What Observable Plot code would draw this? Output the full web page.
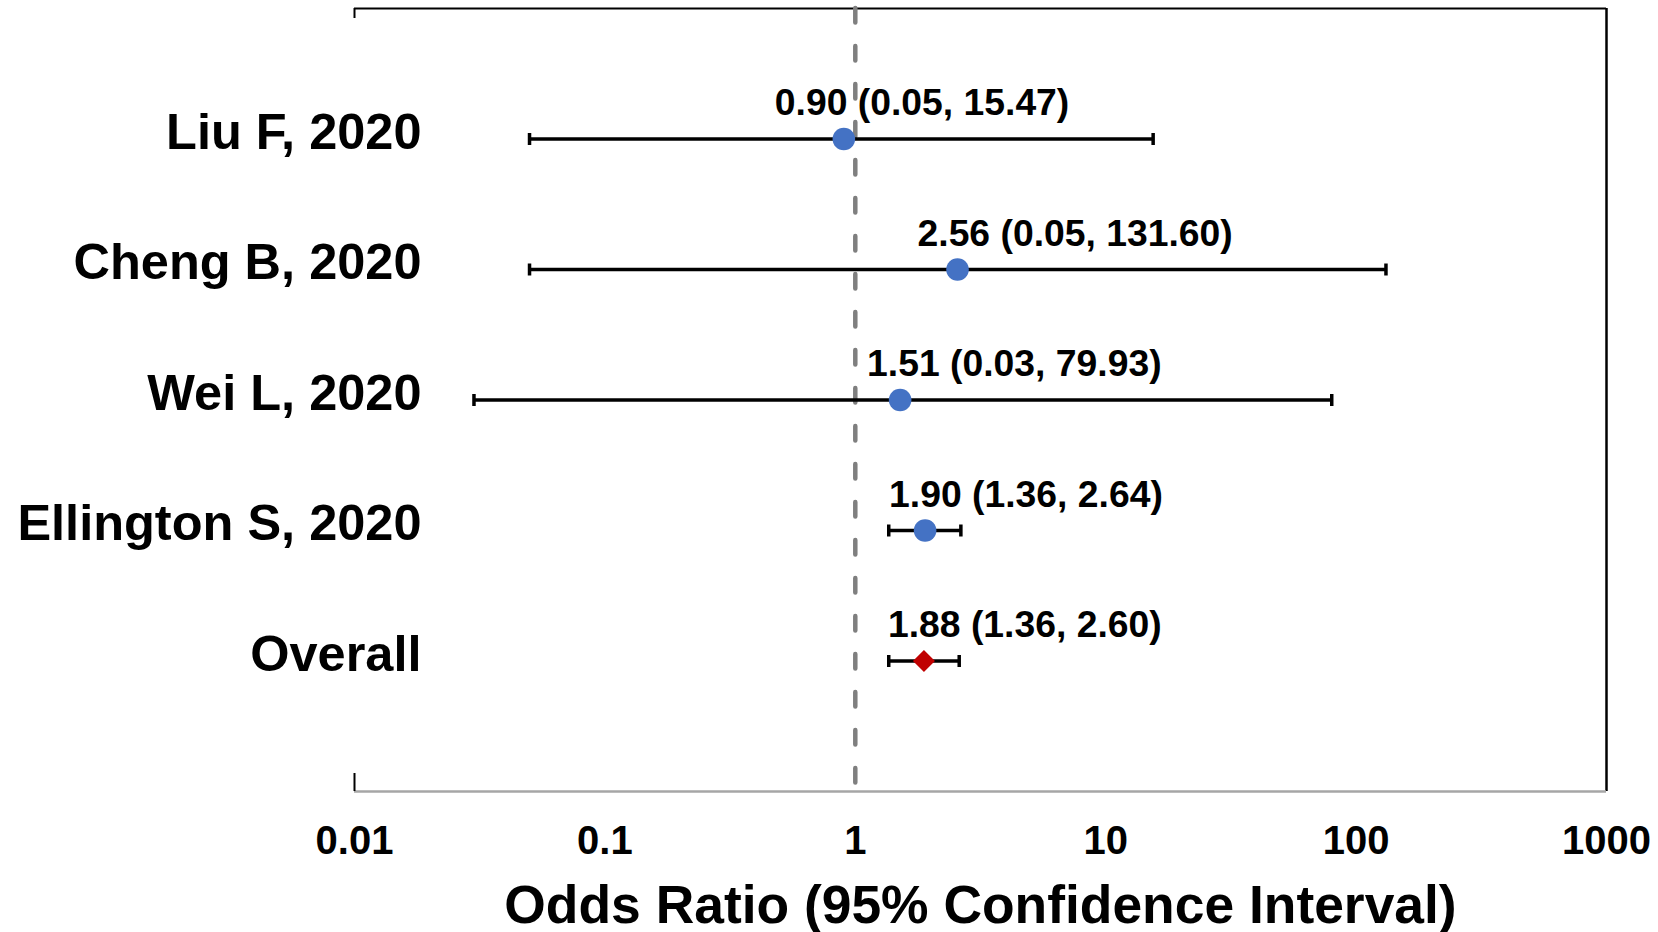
<!DOCTYPE html>
<html>
<head>
<meta charset="utf-8">
<script src="https://cdn.jsdelivr.net/npm/d3@7"></script>
<script src="https://cdn.jsdelivr.net/npm/@observablehq/plot@0.6"></script>
<style>
  html, body { margin: 0; padding: 0; background: #fff; }
  svg { font-family: "Liberation Sans", Arial, sans-serif; font-weight: bold; }
</style>
</head>
<body>
<div id="chart"></div>
<script>
const studies = ["Liu F, 2020", "Cheng B, 2020", "Wei L, 2020", "Ellington S, 2020", "Overall"];
const oddsRatio = [0.90, 2.56, 1.51, 1.90, 1.88];
const lower = [0.05, 0.05, 0.03, 1.36, 1.36];
const upper = [15.47, 131.60, 79.93, 2.64, 2.60];
const isOverall = [false, false, false, false, true];
const tickValues = [0.01, 0.1, 1, 10, 100, 1000];
const tickLabels = ["0.01", "0.1", "1", "10", "100", "1000"];
const xTitle = "Odds Ratio (95% Confidence Interval)";

// row index (1-based category position)
const rows = studies.map((s, i) => ({
  study: s, pos: i + 1, or: oddsRatio[i], lo: lower[i], hi: upper[i], overall: isOverall[i],
  label: `${oddsRatio[i].toFixed(2)} (${lower[i].toFixed(2)}, ${upper[i].toFixed(2)})`
}));

const W = 1658, H = 932;
const mL = 354, mR = 52, mT = 8, mB = 141;

// horizontal nudges of the data labels (as placed in the original)
const labelNudge = [-69, -40, -33, -36, -36];

// vertical bar symbol for error-bar caps
const capSymbol = {
  draw(context, size) {
    const h = Math.sqrt(size / Math.PI);
    context.moveTo(0, -h);
    context.lineTo(0, h);
  }
};

const chart = Plot.plot({
  width: W, height: H,
  marginLeft: mL, marginRight: mR, marginTop: mT, marginBottom: mB,
  style: {fontFamily: '"Liberation Sans", Arial, sans-serif', fontWeight: "bold", color: "#000", background: "#fff"},
  x: {type: "log", domain: [0.01, 1000]},
  y: {type: "linear", domain: [0, studies.length + 1], reverse: true},
  marks: [
    // frame edges
    Plot.ruleY([0], {stroke: "#000", strokeWidth: 2}),
    Plot.ruleX([1000], {stroke: "#000", strokeWidth: 2.5}),
    Plot.ruleY([studies.length + 1], {stroke: "#a6a6a6", strokeWidth: 2.5}),
    // small left ticks at top and bottom
    Plot.ruleX([0.01], {stroke: "#000", strokeWidth: 2, insetBottom: H - mT - mB - 10}),
    Plot.ruleX([0.01], {stroke: "#000", strokeWidth: 2, insetTop: H - mT - mB - 18}),
    // reference line at OR = 1
    Plot.ruleX([1], {stroke: "#7f7f7f", strokeWidth: 4.5, strokeDasharray: "14.5,23.5", strokeLinecap: "round"}),
    // confidence intervals
    Plot.ruleY(rows, {y: "pos", x1: "lo", x2: "hi", stroke: "#000", strokeWidth: 3.3}),
    Plot.dot(rows, {x: "lo", y: "pos", symbol: capSymbol, r: 6, stroke: "#000", strokeWidth: 3.5, fill: "none"}),
    Plot.dot(rows, {x: "hi", y: "pos", symbol: capSymbol, r: 6, stroke: "#000", strokeWidth: 3.5, fill: "none"}),
    // point estimates
    Plot.dot(rows.filter(d => !d.overall), {x: "or", y: "pos", r: 11.3, fill: "#4472C4", stroke: "none"}),
    Plot.dot(rows.filter(d => d.overall), {x: "or", y: "pos", r: 9.9, symbol: "diamond2", fill: "#C00000", stroke: "none"}),
    // data labels
    ...rows.map((r, i) => Plot.text([r], {x: "or", y: "pos", text: "label", textAnchor: "start", dx: labelNudge[i], dy: -35.5, fontSize: 37.3, fontWeight: "bold", fill: "#000"})),
    // axes
    Plot.axisY({ticks: rows.map(d => d.pos), tickFormat: d => studies[d - 1], tickSize: 0, tickPadding: -67, fontSize: 50.5, fontWeight: "bold", dy: -6.5, label: null}),
    Plot.axisX({ticks: tickValues, tickFormat: d => tickLabels[tickValues.indexOf(d)], tickSize: 0, tickPadding: 34.5, fontSize: 40, fontWeight: "bold", label: null}),
    Plot.text([xTitle], {frameAnchor: "bottom", text: d => d, dy: 131, fontSize: 53.4, fontWeight: "bold", fill: "#000"})
  ]
});
document.getElementById("chart").appendChild(chart);
</script>
</body>
</html>
